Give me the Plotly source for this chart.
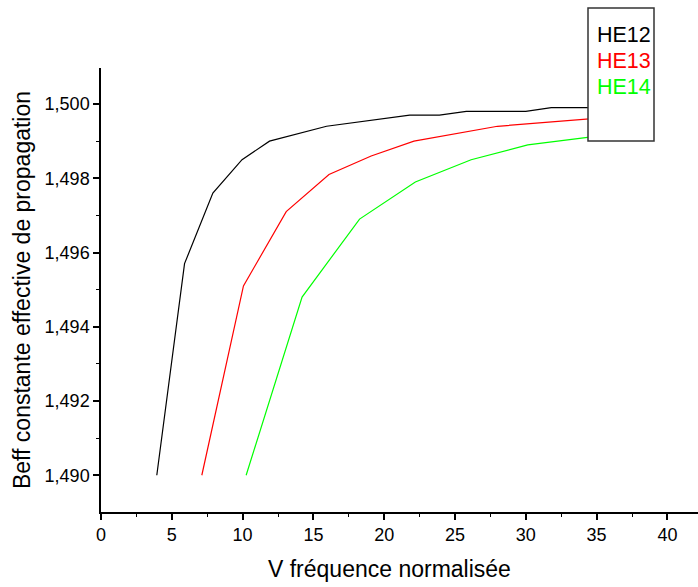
import plotly.graph_objects as go

# Normalised frequency V and effective index for each hybrid mode
v_he12 = [3.94, 5.90, 7.90, 9.96, 11.9, 15.93, 21.8, 23.9, 25.8, 30.0, 31.8, 34.4, 37.8]
b_he12 = [1.4900, 1.4957, 1.4976, 1.4985, 1.4990, 1.4994, 1.4997, 1.4997, 1.4998, 1.4998, 1.4999, 1.4999, 1.4999]

v_he13 = [7.12, 10.06, 13.08, 16.1, 19.08, 22.1, 28.0, 34.4, 37.8]
b_he13 = [1.4900, 1.4951, 1.4971, 1.4981, 1.4986, 1.4990, 1.4994, 1.4996, 1.4997]

v_he14 = [10.25, 14.2, 18.26, 22.2, 26.14, 30.14, 34.36, 37.8]
b_he14 = [1.4900, 1.4948, 1.4969, 1.4979, 1.4985, 1.4989, 1.4991, 1.4992]

series = [
    ("HE12", v_he12, b_he12, "#000000"),
    ("HE13", v_he13, b_he13, "#ff0000"),
    ("HE14", v_he14, b_he14, "#00ff00"),
]

x_ticks = [0, 5, 10, 15, 20, 25, 30, 35, 40]
y_ticks = [1.490, 1.492, 1.494, 1.496, 1.498, 1.500]

FONT = "Liberation Sans, Arial, sans-serif"

fig = go.Figure()
for name, xs, ys, col in series:
    fig.add_trace(go.Scatter(x=xs, y=ys, mode="lines", name=name,
                             line=dict(color=col, width=1.2), showlegend=False))

W, H = 698, 587
L, R, T, B = 101, 0, 68, 75
pw, ph = W - L - R, H - T - B

def px(xp):
    return (xp - L) / pw

def py(yp):
    return (H - B - yp) / ph

# Legend box drawn as an opaque frame over the curves
fig.add_shape(type="rect", xref="paper", yref="paper",
              x0=px(588), x1=px(654), y0=py(141), y1=py(8),
              line=dict(color="#333333", width=1.5), fillcolor="white", layer="above")
for i, (name, xs, ys, col) in enumerate(series):
    fig.add_annotation(xref="paper", yref="paper", x=px(595), y=py(35 + 26 * i),
                       text=name, showarrow=False, xanchor="left", yanchor="middle",
                       font=dict(family=FONT, size=21.5, color=col))

# x-axis title
fig.add_annotation(xref="paper", yref="paper", x=px(389), y=py(569),
                   text="V fréquence normalisée", showarrow=False,
                   xanchor="center", yanchor="middle",
                   font=dict(family=FONT, size=23, color="black"))

axis_common = dict(showline=True, linecolor="black", linewidth=1.5, showgrid=False,
                   zeroline=False, ticks="outside", ticklen=6, tickwidth=1.5,
                   tickcolor="black", tickfont=dict(family=FONT, size=18, color="black"),
                   minor=dict(ticks="outside", ticklen=3, tickwidth=1.2, tickcolor="black"))

fig.update_xaxes(range=[0, (W - L) / 14.16], tickvals=x_ticks, ticktext=[str(t) for t in x_ticks],
                 minor_dtick=2.5, minor_tick0=0, **axis_common)
fig.update_yaxes(range=[1.48901, 1.50097], tickvals=y_ticks, tickformat=".3f",
                 minor_dtick=0.001, minor_tick0=1.489,
                 title=dict(text="Beff constante effective de propagation",
                            font=dict(family=FONT, size=23, color="black"), standoff=8),
                 **axis_common)

fig.update_layout(width=W, height=H, margin=dict(l=L, r=R, t=T, b=B),
                  plot_bgcolor="white", paper_bgcolor="white", separators=", ",
                  font=dict(family=FONT, color="black"))

fig.write_html("out.html")
